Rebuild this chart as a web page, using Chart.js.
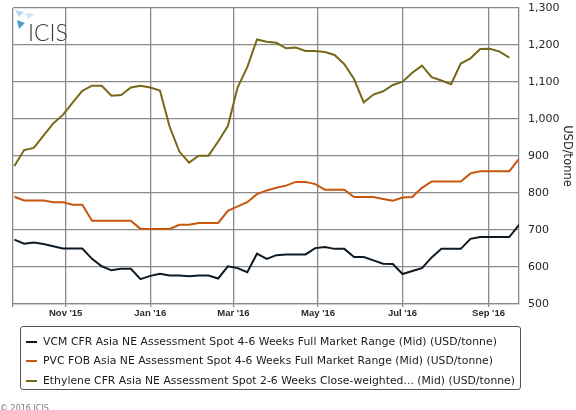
<!DOCTYPE html>
<html>
<head>
<meta charset="utf-8">
<script src="https://cdn.jsdelivr.net/npm/chart.js@4/dist/chart.umd.min.js"></script>
<style>
  html, body { margin: 0; padding: 0; background: #fff; }
  #wrap { position: relative; width: 576px; height: 410px; overflow: hidden; background: #fff; }
  #c { position: absolute; left: 0; top: 0; }
  #legend { position: absolute; left: 20px; top: 326px; width: 501px; height: 64px; border: 1px solid #555; border-radius: 3px; box-sizing: border-box; padding-top: 5px; font-family: "DejaVu Sans", sans-serif; font-size: 10.8px; color: #1a1a1a; }
  .row { position: relative; height: 19.3px; line-height: 19.3px; white-space: nowrap; }
  .sw { position: absolute; left: 5px; top: 9px; width: 11px; height: 2px; }
  .tx { position: absolute; left: 22px; top: 0; }
  #copy { position: absolute; left: 0; top: 404px; font-family: "DejaVu Sans", sans-serif; font-size: 8px; color: #777; }
</style>
</head>
<body>
<div id="wrap">
  <canvas id="c" width="576" height="410"></canvas>
  <div id="legend"></div>
  <div id="copy">© 2016 ICIS</div>
</div>
<script>
// Weekly assessment dates
const dates = [
  '2015-09-25','2015-10-02','2015-10-09','2015-10-16','2015-10-23','2015-10-30',
  '2015-11-06','2015-11-13','2015-11-20','2015-11-27','2015-12-04','2015-12-11',
  '2015-12-18','2015-12-25','2016-01-01','2016-01-08','2016-01-15','2016-01-22',
  '2016-01-29','2016-02-05','2016-02-12','2016-02-19','2016-02-26','2016-03-04',
  '2016-03-11','2016-03-18','2016-03-25','2016-04-01','2016-04-08','2016-04-15',
  '2016-04-22','2016-04-29','2016-05-06','2016-05-13','2016-05-20','2016-05-27',
  '2016-06-03','2016-06-10','2016-06-17','2016-06-24','2016-07-01','2016-07-08',
  '2016-07-15','2016-07-22','2016-07-29','2016-08-05','2016-08-12','2016-08-19',
  '2016-08-26','2016-09-02','2016-09-09','2016-09-16','2016-09-23'
];

const vcm = [
  674, 663, 666, 662, 656, 650, 650, 650, 622, 602,
  591, 595, 595, 567, 576, 582, 577, 577, 575, 577,
  577, 569, 602, 597, 586, 636, 622, 632, 634, 634,
  634, 651, 654, 649, 649, 627, 627, 618, 609, 608,
  581, 589, 597, 626, 649, 649, 649, 676, 681, 681,
  681, 681, 714
];

const pvc = [
  790, 780, 780, 780, 775, 775, 768, 768, 725, 725,
  725, 725, 725, 703, 703, 703, 703, 714, 714, 719,
  719, 719, 752, 764, 775, 797, 807, 814, 820, 830,
  830, 824, 809, 809, 809, 789, 789, 789, 784, 779,
  788, 789, 814, 831, 831, 831, 831, 853, 859, 859,
  859, 859, 892
];

const ethylene = [
  873, 916, 922, 955, 988, 1011, 1044, 1076, 1090, 1090,
  1063, 1065, 1085, 1090, 1085, 1077, 979, 912, 882, 901,
  901, 939, 981, 1085, 1140, 1215, 1209, 1206, 1191, 1193,
  1184, 1184, 1181, 1173, 1148, 1108, 1045, 1066, 1075, 1092,
  1101, 1125, 1144, 1113, 1104, 1094, 1150, 1164, 1189, 1190,
  1182, 1166
];

const seriesNames = [
  'VCM CFR Asia NE Assessment Spot 4-6 Weeks Full Market Range (Mid) (USD/tonne)',
  'PVC FOB Asia NE Assessment Spot 4-6 Weeks Full Market Range (Mid) (USD/tonne)',
  'Ethylene CFR Asia NE Assessment Spot 2-6 Weeks Close-weighted... (Mid) (USD/tonne)'
];
const seriesColors = ['#0e1a24', '#c8560c', '#77681a'];

const tickDates = ['2015-11-01','2016-01-01','2016-03-01','2016-05-01','2016-07-01','2016-09-01'];
const tickLabels = ["Nov '15", "Jan '16", "Mar '16", "May '16", "Jul '16", "Sep '16"];
const axisStart = '2015-09-24';
const axisEnd = '2016-09-23';
const yTicks = [500, 600, 700, 800, 900, 1000, 1100, 1200, 1300];
const yTitle = 'USD/tonne';

const ORIGIN = Date.UTC(2015, 10, 1);
function dayNum(s) {
  const p = s.split('-').map(Number);
  return Math.round((Date.UTC(p[0], p[1] - 1, p[2]) - ORIGIN) / 86400000);
}
function pts(vals) { return vals.map((v, i) => ({ x: dayNum(dates[i]), y: v })); }

const xMin = dayNum(axisStart), xMax = dayNum(axisEnd);
const tickPos = tickDates.map(dayNum);

const gridColor = '#8a8a8a';

const logoPlugin = {
  id: 'logo',
  afterDraw(chart) {
    const ctx = chart.ctx;
    const L = chart.chartArea.left, T = chart.chartArea.top;
    ctx.save();
    ctx.fillStyle = '#bcd6ea';
    ctx.beginPath(); ctx.moveTo(L + 2, T + 2); ctx.lineTo(L + 11, T + 4); ctx.lineTo(L + 6, T + 9); ctx.closePath(); ctx.fill();
    ctx.fillStyle = '#d3e5f2';
    ctx.beginPath(); ctx.moveTo(L + 12, T + 5); ctx.lineTo(L + 22, T + 6); ctx.lineTo(L + 15, T + 11); ctx.closePath(); ctx.fill();
    ctx.fillStyle = '#4d9fd3';
    ctx.beginPath(); ctx.moveTo(L + 4, T + 12); ctx.lineTo(L + 12, T + 15); ctx.lineTo(L + 6, T + 21); ctx.closePath(); ctx.fill();
    ctx.fillStyle = '#3a3a3a';
    ctx.font = '300 23px Lato, "Open Sans", sans-serif';
    ctx.textBaseline = 'alphabetic';
    ctx.textAlign = 'left';
    ctx.fillText('ICIS', L + 15, T + 33);
    ctx.restore();
  }
};

const legendTextWidths = [454, 450, 472];
const htmlLegend = {
  id: 'htmlLegend',
  afterUpdate(chart) {
    const box = document.getElementById('legend');
    box.innerHTML = '';
    const mctx = document.createElement('canvas').getContext('2d');
    mctx.font = '10.8px "DejaVu Sans", sans-serif';
    chart.data.datasets.forEach((ds, i) => {
      const row = document.createElement('div'); row.className = 'row';
      const sw = document.createElement('span'); sw.className = 'sw'; sw.style.background = ds.borderColor;
      const tx = document.createElement('span'); tx.className = 'tx'; tx.textContent = ds.label;
      const w = mctx.measureText(ds.label).width;
      const ls = Math.max(0, Math.min(1, (legendTextWidths[i] - w) / ds.label.length));
      tx.style.letterSpacing = ls.toFixed(3) + 'px';
      row.appendChild(sw); row.appendChild(tx); box.appendChild(row);
    });
  }
};

new Chart(document.getElementById('c'), {
  type: 'line',
  data: {
    datasets: [
      { label: seriesNames[0], data: pts(vcm), borderColor: seriesColors[0], backgroundColor: seriesColors[0] },
      { label: seriesNames[1], data: pts(pvc), borderColor: seriesColors[1], backgroundColor: seriesColors[1] },
      { label: seriesNames[2], data: pts(ethylene), borderColor: seriesColors[2], backgroundColor: seriesColors[2] }
    ]
  },
  options: {
    responsive: false,
    animation: false,
    events: [],
    elements: {
      line: { borderWidth: 2, tension: 0 },
      point: { radius: 0, hoverRadius: 0 }
    },
    layout: { padding: { left: 13, top: 8, right: 0, bottom: 89.6 } },
    plugins: { legend: { display: false }, tooltip: { enabled: false } },
    scales: {
      x: {
        type: 'linear',
        min: xMin,
        max: xMax,
        afterBuildTicks(scale) {
          scale.ticks = [{ value: xMin }].concat(tickPos.map(v => ({ value: v })));
        },
        afterFit(scale) { scale.paddingLeft = 0; scale.paddingRight = 0; },
        ticks: {
          autoSkip: false,
          maxRotation: 0,
          padding: 1,
          color: '#2a2a2a',
          font: { family: '"Liberation Sans", Arial, sans-serif', size: 9.5, weight: 'bold' },
          callback(v) { const i = tickPos.indexOf(v); return i >= 0 ? tickLabels[i] : ''; }
        },
        grid: { drawOnChartArea: true, color: gridColor, lineWidth: 1.3, tickLength: 3 },
        border: { display: true, color: gridColor, width: 1.3 }
      },
      y: {
        position: 'right',
        min: yTicks[0],
        max: yTicks[yTicks.length - 1],
        afterBuildTicks(scale) { scale.ticks = yTicks.map(v => ({ value: v })); },
        afterFit(scale) { scale.width = 57; scale.paddingTop = 0; scale.paddingBottom = 0; },
        ticks: {
          padding: 9,
          color: '#262626',
          font: { family: '"DejaVu Sans", sans-serif', size: 11 },
          callback(v) { return v.toLocaleString('en-US'); }
        },
        grid: { color: gridColor, lineWidth: 1.3, drawTicks: false },
        border: { display: true, color: gridColor, width: 1.3 },
        title: {
          display: true,
          text: yTitle,
          color: '#262626',
          padding: { top: 2, bottom: 0 },
          font: { family: '"DejaVu Sans", sans-serif', size: 11.5 }
        }
      }
    }
  },
  plugins: [logoPlugin, htmlLegend]
});
</script>
</body>
</html>
